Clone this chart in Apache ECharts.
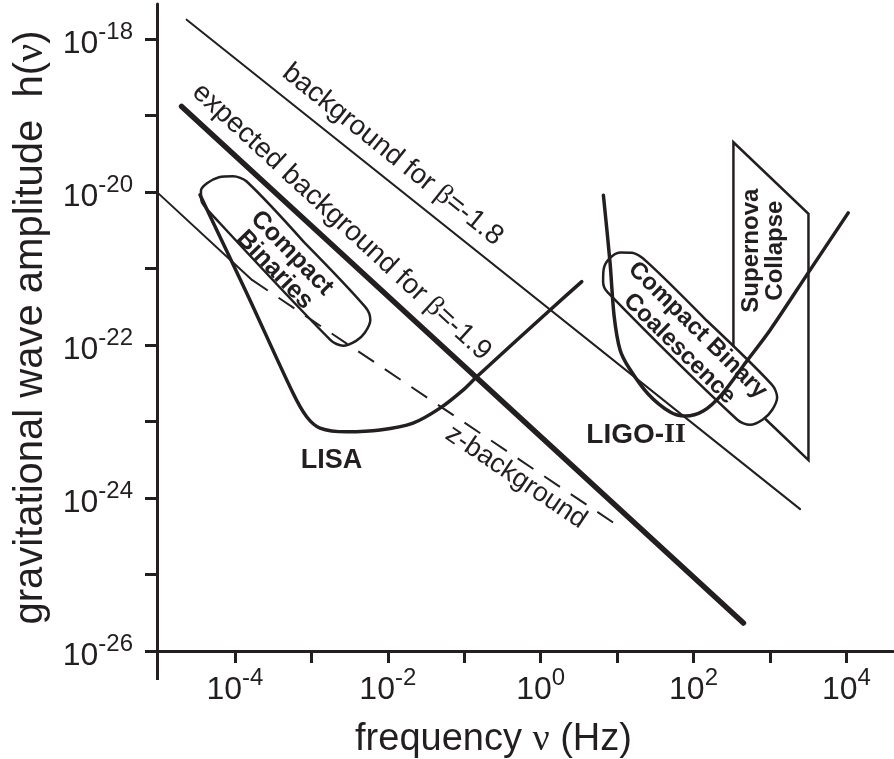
<!DOCTYPE html>
<html>
<head>
<meta charset="utf-8">
<script src="https://cdn.jsdelivr.net/npm/echarts@6/dist/echarts.min.js"></script>
<style>
    html, body {margin: 0; padding: 0; background: #fff;}
    #chart {width: 894px; height: 759px;}
</style>
</head>
<body>
<div id="chart"></div>
<script>
/* ===================== data (log10 of frequency / amplitude) ===================== */
var xTicks = [-4, -3, -2, -1, 0, 1, 2, 3, 4];
var xLabels = [-4, -2, 0, 2, 4];
var yTicks = [-26, -25, -24, -23, -22, -21, -20, -19, -18];
var yLabels = [-26, -24, -22, -20, -18];

// straight backgrounds
var bgBeta18 = [[-4.632, -17.745], [3.395, -24.145]];
var bgBeta19 = [[-4.698, -18.880], [2.653, -25.634]];
var zBgSolid = [[-5.02, -20.0], [-3.777, -21.148]];
var zBgDashed = [[-3.777, -21.148], [1.039, -24.381]];

// detector curves
var lisaCurve = [
    [-4.458, -20.035], [-3.847, -21.318], [-3.241, -22.627], [-3.062, -22.937],
    [-2.887, -23.085], [-2.538, -23.134], [-2.102, -23.111], [-1.670, -23.020],
    [-1.317, -22.824], [-1.016, -22.588], [-0.836, -22.414], [0.123, -21.541],
    [0.538, -21.170]
];
var ligoCurve = [
    [0.821, -20.042], [0.908, -20.925], [0.961, -21.619], [1.039, -22.064],
    [1.157, -22.300], [1.406, -22.640], [1.694, -22.876], [1.890, -22.928],
    [2.126, -22.862], [2.374, -22.640], [2.688, -22.221], [3.003, -21.802],
    [3.500, -21.056], [4.024, -20.271]
];

// source regions (outlines)
var compactBinariesBox = [
    [-3.097, -20.653], [-2.293, -21.504], [-2.229, -21.671], [-2.301, -21.838],
    [-2.415, -21.944], [-2.584, -22.008], [-2.749, -21.935], [-4.353, -20.238],
    [-4.438, -20.114], [-4.445, -19.983], [-4.366, -19.885], [-4.209, -19.806],
    [-4.026, -19.793], [-3.847, -19.861], [-3.097, -20.653]
];
var coalescenceBox = [
    [2.175, -21.682], [3.025, -22.517], [3.094, -22.682], [3.028, -22.849],
    [2.907, -22.973], [2.741, -23.043], [2.573, -22.976], [0.874, -21.306],
    [0.817, -21.174], [0.823, -21.017], [0.895, -20.873], [1.039, -20.788],
    [1.196, -20.794], [1.387, -20.908], [2.175, -21.682]
];
var supernovaBox = [
    [2.522, -22.025], [2.522, -19.348], [3.504, -20.284], [3.504, -23.504], [2.937, -22.963]
];

// annotations
var noteTexts = [
    'background for β=-1.8', 'expected background for β=-1.9', 'z-background',
    'LISA', 'LIGO-II', 'Compact\nBinaries', 'Compact Binary\nCoalescence', 'Supernova\nCollapse'
];
var notePos = [
    [-1.938, -19.512], [-2.606, -20.389], [-0.322, -23.726],
    [-2.737, -23.504], [1.249, -23.177], [-3.368, -20.908], [1.934, -21.927], [2.911, -20.765]
];
/* ===================== end ===================== */


/* ===================== styles ===================== */
var FONT = '"Liberation Sans", Arial, Helvetica, sans-serif';
var SERIF = '"Liberation Serif", "Times New Roman", serif';
var INK = '#231f20';
var X_MIN = -5.02, X_MAX = 4.61, Y_MIN = -26, Y_MAX = -17.54;

var noteRotate = [-38.6, -42.6, -33.9, 0, 0, -46, -44.5, 90];
var noteSize = [28, 28, 27, 27, 28, 25, 24, 24];
var noteBold = [false, false, false, true, true, true, true, true];
var noteLineHeight = [30, 30, 30, 30, 30, 24, 26, 24];

var tickRich = {
    b: {fontSize: 32, fontFamily: FONT, color: INK, lineHeight: 48},
    s: {fontSize: 24, fontFamily: FONT, color: INK, lineHeight: 24, verticalAlign: 'top'}
};

function powLabel(v) {
    return '{b|10}{s|' + v + '}';
}

function lineSeries(data, width, extra) {
    var s = {
        type: 'line',
        data: data,
        symbol: 'none',
        showSymbol: false,
        silent: true,
        z: 2,
        lineStyle: {color: INK, width: width, cap: 'round', join: 'round'}
    };
    for (var k in extra) {
        s[k] = extra[k];
    }
    return s;
}
/* ===================== end ===================== */


var chart = echarts.init(document.getElementById('chart'));

var option = {
    animation: false,
    backgroundColor: '#fff',
    grid: {left: 157, right: 1, top: 4, bottom: 108, outerBoundsMode: 'none'},
    xAxis: [{
        type: 'value',
        min: X_MIN,
        max: X_MAX,
        axisLine: {show: true, onZero: false, lineStyle: {color: INK, width: 3}},
        axisTick: {show: true, customValues: xTicks, length: 12, lineStyle: {color: INK, width: 3}},
        axisLabel: {customValues: xLabels, margin: 15, formatter: powLabel, rich: tickRich},
        splitLine: {show: false},
        name: 'frequency {g|ν} (Hz)',
        nameLocation: 'middle',
        nameGap: 70,
        nameTextStyle: {
            fontSize: 38, fontFamily: FONT, color: INK, padding: [0, 63, 0, 0],
            rich: {g: {fontSize: 38, fontFamily: SERIF, color: INK}}
        }
    }, {
        // y 轴在 x 轴下方伸出的一段
        type: 'value',
        min: X_MIN,
        max: X_MAX,
        position: 'bottom',
        axisLine: {show: false},
        axisTick: {show: true, customValues: [X_MIN], length: 29, lineStyle: {color: INK, width: 3}},
        axisLabel: {show: false},
        splitLine: {show: false}
    }],
    yAxis: {
        type: 'value',
        min: Y_MIN,
        max: Y_MAX,
        axisLine: {show: true, onZero: false, lineStyle: {color: INK, width: 3}},
        axisTick: {show: true, customValues: yTicks, length: 12, lineStyle: {color: INK, width: 3}},
        axisLabel: {customValues: yLabels, margin: 24, padding: [10, 0, 0, 0], formatter: powLabel, rich: tickRich},
        splitLine: {show: false},
        name: 'gravitational wave amplitude  h({g|ν})',
        nameLocation: 'middle',
        nameGap: 106,
        nameTextStyle: {
            fontSize: 40, fontFamily: FONT, color: INK,
            rich: {g: {fontSize: 40, fontFamily: SERIF, color: INK}}
        }
    },
    series: [
        lineSeries(bgBeta18, 2),
        lineSeries(zBgSolid, 2),
        lineSeries(zBgDashed, 2, {lineStyle: {color: INK, width: 2, type: [19, 13]}}),
        lineSeries(bgBeta19, 5.5),
        lineSeries(compactBinariesBox, 2.5, {smooth: 0.3}),
        lineSeries(coalescenceBox, 2.5, {smooth: 0.3}),
        lineSeries(supernovaBox, 2.5, {lineStyle: {color: INK, width: 2.5, join: 'miter'}}),
        lineSeries(lisaCurve, 3.5, {smooth: 0.3, z: 3}),
        {
            type: 'scatter',
            silent: true,
            symbol: 'circle',
            symbolSize: 0.5,
            itemStyle: {color: INK, opacity: 1},
            z: 5,
            data: noteTexts.map(function (t, i) {
                return {
                    name: t,
                    value: notePos[i],
                    label: {
                        rotate: noteRotate[i],
                        fontSize: noteSize[i],
                        fontWeight: noteBold[i] ? 'bold' : 'normal',
                        lineHeight: noteLineHeight[i],
                        color: INK,
                        opacity: 1,
                        rich: {
                            g: {fontSize: noteSize[i], fontFamily: SERIF, color: INK},
                            r: {fontSize: noteSize[i], fontFamily: SERIF, fontWeight: 'bold', color: INK}
                        }
                    }
                };
            }),
            label: {
                show: true,
                position: 'inside',
                color: INK,
                opacity: 1,
                textBorderWidth: 0,
                fontFamily: FONT,
                align: 'center',
                verticalAlign: 'middle',
                formatter: function (p) {
                    return p.name.replace('β', '{g|β}').replace('-II', '-{r|II}');
                }
            }
        },
        lineSeries(ligoCurve, 3.5, {smooth: 0.3, z: 6})
    ]
};

chart.setOption(option);
</script>
</body>
</html>
